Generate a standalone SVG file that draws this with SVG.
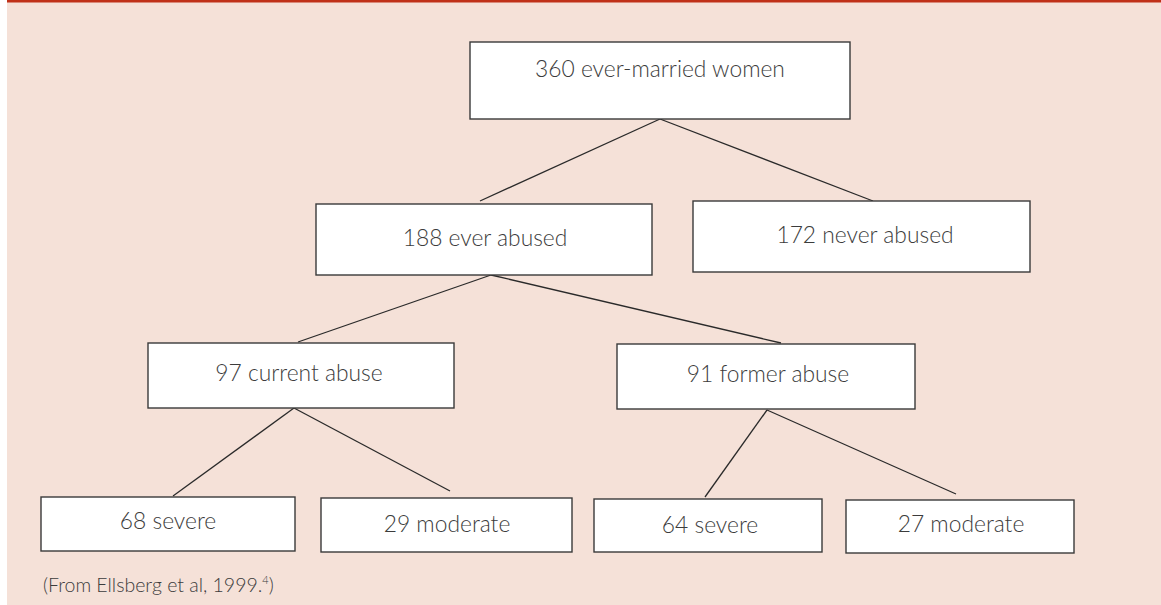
<svg xmlns="http://www.w3.org/2000/svg" width="1161" height="605" viewBox="0 0 1161 605">
<style>
.box{fill:#fff;stroke:#3a3a3a;stroke-width:1.4}
.lbl{font-family:Lato,"Liberation Sans",sans-serif;font-weight:300;font-size:22.8px;fill:#3c3c3c;text-anchor:middle}
.cap{font-family:Lato,"Liberation Sans",sans-serif;font-weight:300;font-size:19.5px;fill:#3c3c3c}
.edge{stroke:#2a2a2a;stroke-width:1.3;fill:none}
</style>
<rect x="0" y="0" width="1161" height="605" fill="#fff"/>
<rect x="7" y="0" width="1154" height="605" fill="#f5e1d8"/>
<rect x="7" y="0" width="1154" height="2.5" fill="#c03018"/>
<g id="connectors">
<line class="edge" x1="660" y1="119" x2="480" y2="201"/>
<line class="edge" x1="660" y1="119" x2="873" y2="201"/>
<line class="edge" x1="491" y1="275" x2="298" y2="342"/>
<line class="edge" x1="491" y1="275" x2="781" y2="343"/>
<line class="edge" x1="294" y1="408" x2="173" y2="496"/>
<line class="edge" x1="294" y1="408" x2="450" y2="491"/>
<line class="edge" x1="767" y1="410" x2="705" y2="497"/>
<line class="edge" x1="767" y1="410" x2="956" y2="494"/>
</g>
<g id="n360"><rect class="box" x="470" y="42" width="380" height="77"/><text class="lbl" x="660" y="77">360 ever-married women</text></g>
<g id="n188"><rect class="box" x="316" y="204" width="336" height="71"/><text class="lbl" x="485" y="246">188 ever abused</text></g>
<g id="n172"><rect class="box" x="693" y="201" width="337" height="71"/><text class="lbl" x="865" y="243">172 never abused</text></g>
<g id="n97"><rect class="box" x="148" y="343" width="306" height="65"/><text class="lbl" x="299" y="381">97 current abuse</text></g>
<g id="n91"><rect class="box" x="617" y="344" width="298" height="65"/><text class="lbl" x="768" y="382">91 former abuse</text></g>
<g id="n68"><rect class="box" x="41" y="497" width="254" height="54"/><text class="lbl" x="168" y="529">68 severe</text></g>
<g id="n29"><rect class="box" x="321" y="498" width="251" height="54"/><text class="lbl" x="447" y="532">29 moderate</text></g>
<g id="n64"><rect class="box" x="594" y="499" width="228" height="53"/><text class="lbl" x="710" y="533">64 severe</text></g>
<g id="n27"><rect class="box" x="846" y="500" width="228" height="53"/><text class="lbl" x="961" y="532">27 moderate</text></g>
<text class="cap" x="43" y="592">(From Ellsberg et al, 1999.<tspan font-size="11" dy="-8">4</tspan><tspan dy="8">)</tspan></text>
</svg>
